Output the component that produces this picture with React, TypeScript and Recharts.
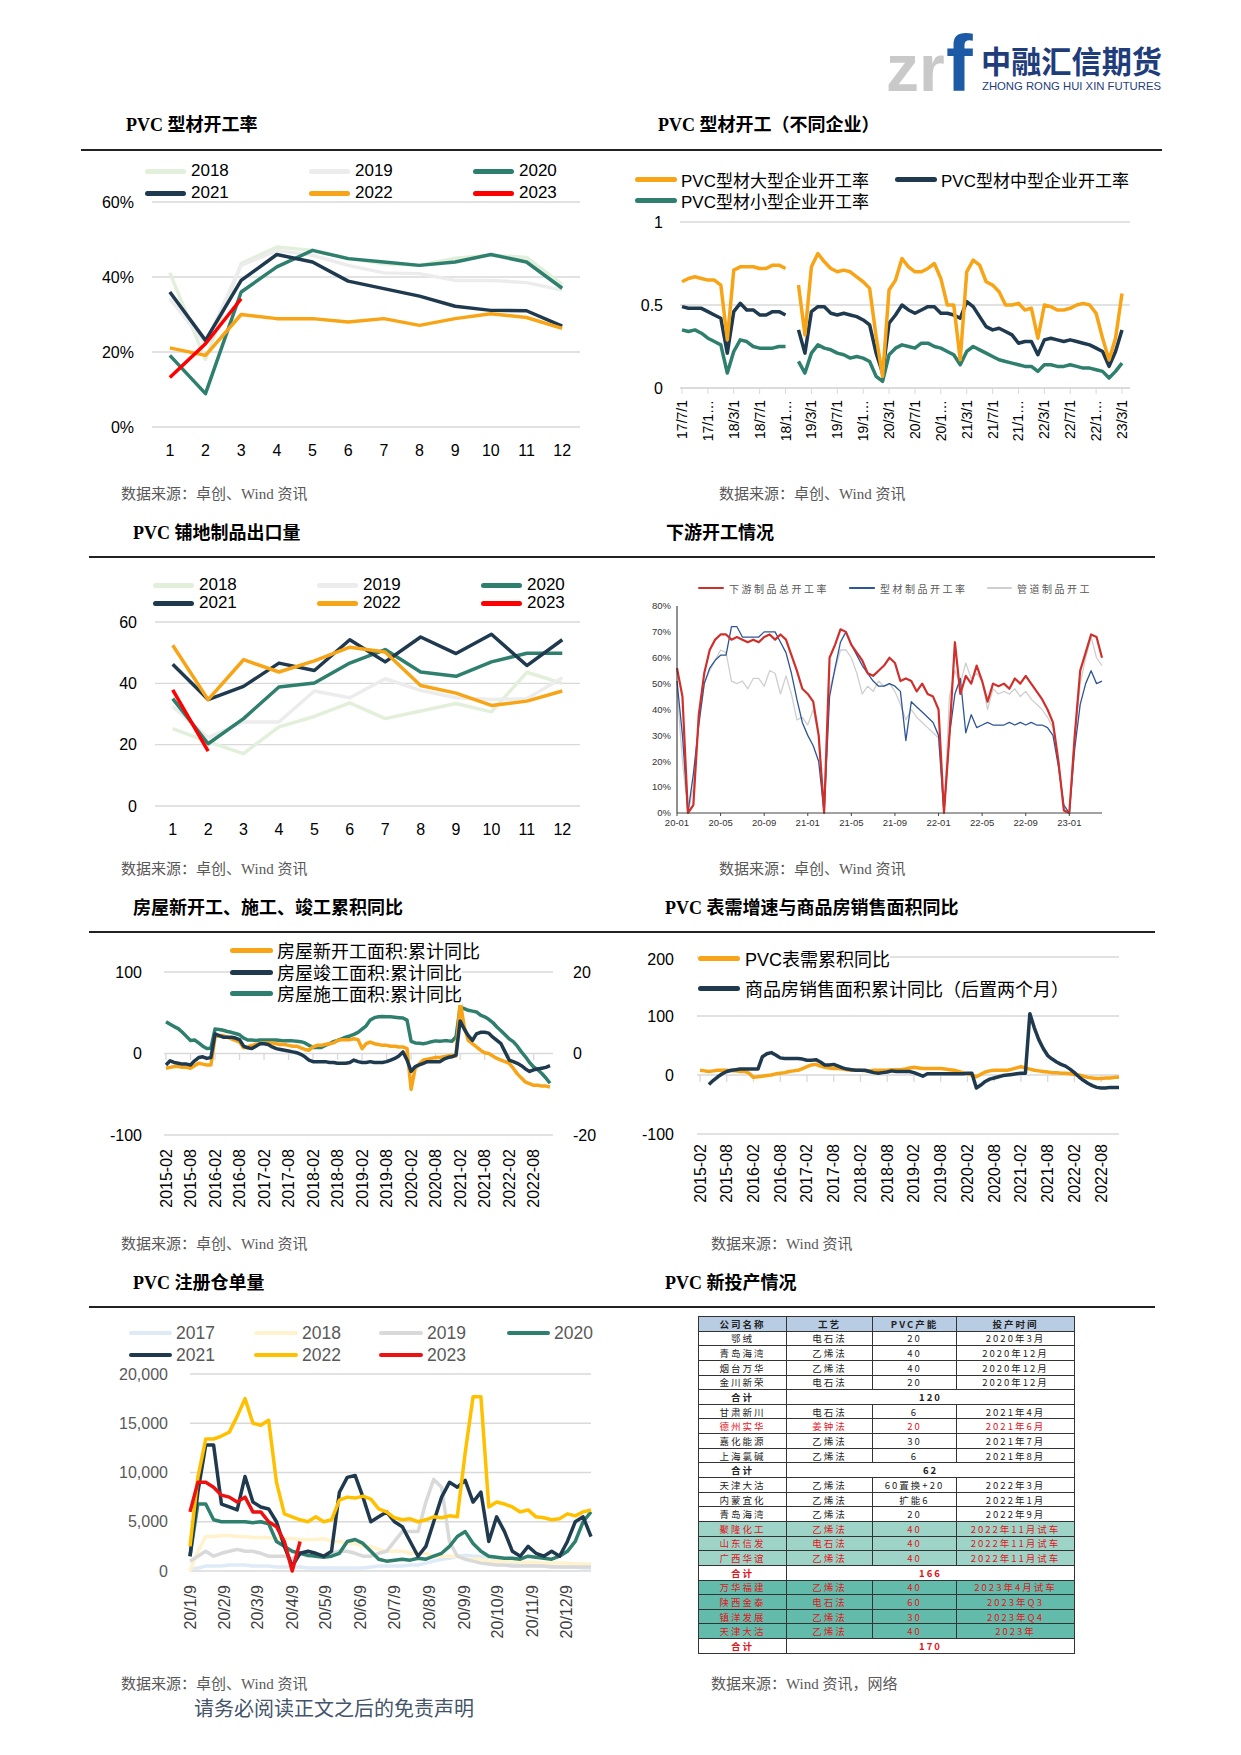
import React from "react";
import { LineChart, Line, XAxis, YAxis, CartesianGrid, ReferenceLine } from "recharts";

// ─── Fonts & colours ──────────────────────────────
const SANS = '"Liberation Sans", "Noto Sans CJK SC", sans-serif';
const SERIF = '"Liberation Serif", "Noto Sans CJK SC", serif';
const CJK = '"Noto Sans CJK SC", "Liberation Sans", sans-serif';
const GRID = "#d9d9d9";
const C17 = "#deebf7";
const C18 = "#e2efda";
const C19 = "#ececec";
const C20 = "#2f7f6e";
const C21 = "#1f3a4f";
const C22 = "#f7a416";
const C23 = "#ff0000";

// ─── PVC 型材开工率 (%) ─────────────────────────────
const months = ["1", "2", "3", "4", "5", "6", "7", "8", "9", "10", "11", "12"];
const rate2018 = [41.1, 18.0, 43.6, 48.0, 47.1, 45.0, 43.5, 43.1, 45.0, 45.8, 45.2, 38.0];
const rate2019 = [34.2, 22.2, 43.1, 47.1, 45.8, 43.1, 41.1, 40.9, 39.1, 39.1, 38.5, 36.5];
const rate2020 = [19.1, 8.9, 36.0, 42.7, 47.1, 44.9, 44.0, 43.1, 44.0, 46.0, 44.0, 37.0];
const rate2021 = [36.0, 23.1, 39.1, 46.0, 44.0, 38.9, 36.9, 34.9, 32.2, 31.1, 31.0, 26.9];
const rate2022 = [21.1, 19.1, 30.0, 28.9, 28.9, 28.0, 28.9, 27.1, 28.9, 30.2, 29.2, 26.3];
const rate2023 = [13.2, 22.2, 34.2];

// ─── PVC 型材开工 (不同企业) 2017-07 .. 2023-03 ─────────
const firmMonths: string[] = [];
for (let y = 2017; y <= 2023; y++) {
  for (let m = 1; m <= 12; m++) {
    if ((y === 2017 && m < 7) || (y === 2023 && m > 3)) continue;
    firmMonths.push(`${String(y).slice(2)}/${m}/1`);
  }
}
const firmLarge = [
  0.64, 0.66, 0.67, 0.66, 0.65, 0.65, 0.62, 0.29, 0.71, 0.73,
  0.73, 0.73, 0.72, 0.72, 0.74, 0.74, 0.72, null, 0.62, 0.32,
  0.73, 0.81, 0.76, 0.72, 0.70, 0.71, 0.70, 0.67, 0.64, 0.60,
  0.31, 0.07, 0.59, 0.65, 0.78, 0.73, 0.70, 0.70, 0.72, 0.75,
  0.66, 0.50, 0.50, 0.17, 0.70, 0.77, 0.74, 0.64, 0.62, 0.58,
  0.50, 0.50, 0.51, 0.47, 0.48, 0.30, 0.50, 0.49, 0.47, 0.47,
  0.48, 0.50, 0.51, 0.50, 0.45, 0.30, 0.17, 0.30, 0.57,
];
const firmMid = [
  0.49, 0.48, 0.48, 0.48, 0.46, 0.44, 0.42, 0.21, 0.46, 0.51,
  0.47, 0.47, 0.44, 0.44, 0.46, 0.46, 0.44, null, 0.35, 0.21,
  0.46, 0.49, 0.49, 0.45, 0.44, 0.45, 0.44, 0.43, 0.41, 0.38,
  0.21, 0.09, 0.39, 0.44, 0.50, 0.47, 0.45, 0.47, 0.49, 0.49,
  0.45, 0.45, 0.44, 0.42, 0.52, 0.49, 0.43, 0.37, 0.35, 0.36,
  0.34, 0.32, 0.27, 0.28, 0.28, 0.20, 0.29, 0.30, 0.29, 0.28,
  0.29, 0.28, 0.27, 0.26, 0.24, 0.22, 0.13, 0.22, 0.35,
];
const firmSmall = [
  0.35, 0.34, 0.35, 0.33, 0.30, 0.28, 0.26, 0.09, 0.22, 0.29,
  0.28, 0.25, 0.24, 0.24, 0.24, 0.25, 0.25, null, 0.16, 0.09,
  0.21, 0.26, 0.24, 0.23, 0.21, 0.20, 0.18, 0.19, 0.18, 0.16,
  0.07, 0.04, 0.20, 0.24, 0.26, 0.25, 0.24, 0.27, 0.27, 0.25,
  0.24, 0.22, 0.20, 0.14, 0.22, 0.25, 0.23, 0.21, 0.19, 0.17,
  0.16, 0.15, 0.14, 0.13, 0.13, 0.10, 0.14, 0.14, 0.13, 0.13,
  0.14, 0.13, 0.12, 0.12, 0.11, 0.10, 0.06, 0.10, 0.15,
];

// ─── PVC 铺地制品出口量 ────────────────────────────
const exp2018 = [25.2, 20.9, 17.1, 25.8, 29.2, 33.6, 28.5, 31.0, 33.4, 30.7, 43.6, 40.0];
const exp2019 = [32.5, 22.3, 27.4, 27.4, 37.5, 35.3, 41.5, 37.7, 35.3, 34.7, 35.0, 41.8];
const exp2020 = [35.0, 20.3, 28.5, 38.8, 40.1, 46.6, 51.0, 43.7, 42.3, 47.0, 49.8, 49.8];
const exp2021 = [46.2, 34.7, 39.0, 46.6, 44.2, 54.2, 47.0, 55.1, 49.7, 56.0, 45.8, 54.2];
const exp2022 = [52.4, 34.7, 47.7, 43.7, 47.3, 51.8, 50.2, 39.3, 36.8, 32.8, 34.2, 37.5];
const exp2023 = [37.9, 17.9];

// ─── 下游开工情况 (半月, 2020-01 起) ──────────────────
const downTicks = [0, 4, 8, 12, 16, 20, 24, 28, 32, 36];
const downTickLabels = ["20-01", "20-05", "20-09", "21-01", "21-05", "21-09", "22-01", "22-05", "22-09", "23-01"];
const downTotal = [
  56, 45, 0, 3, 38, 54, 63, 67, 69, 69,
  67, 68, 67, 66, 67, 66, 68, 69, 67, 69,
  67, 61, 55, 48, 46, 43, 30, 0, 60, 65,
  71, 70, 65, 62, 59, 54, 53, 55, 57, 60,
  58, 51, 52, 51, 47, 50, 46, 45, 40, 0,
  30, 66, 46, 53, 50, 57, 51, 43, 50, 49,
  50, 48, 52, 50, 53, 50, 47, 44, 40, 35,
  20, 1, 0, 30, 55, 62, 69, 68, 60,
];
const downProfile = [
  51, 30, 0, 15, 34, 50, 56, 59, 61, 61,
  72, 72, 68, 68, 68, 68, 70, 70, 70, 66,
  62, 54, 44, 35, 30, 26, 20, 0, 45, 56,
  66, 70, 65, 61, 57, 54, 51, 49, 49, 50,
  49, 47, 28, 43, 41, 39, 37, 35, 30, 0,
  30, 46, 52, 31, 38, 33, 34, 35, 34, 34,
  34, 35, 34, 35, 34, 35, 34, 34, 33, 30,
  18, 3, 0, 25, 42, 50, 55, 50, 51,
];
const downPipe = [
  48, 20, 0, 10, 35, 50, 55, 59, 63, 62,
  51, 50, 51, 48, 52, 52, 49, 55, 54, 46,
  53, 46, 36, 37, 34, 40, 30, 0, 48, 55,
  63, 63, 60, 54, 46, 49, 47, 51, 49, 50,
  47, 42, 36, 40, 37, 35, 33, 31, 29, 0,
  45, 55, 50, 58, 52, 54, 51, 40, 48, 46,
  47, 46, 48, 45, 47, 44, 42, 40, 37, 33,
  20, 2, 0, 30, 50, 60, 68, 60, 57,
];

// ─── 房屋新开工/施工/竣工 & 表需 (2015-02 .. 2022-12) ────
const houseMonths: string[] = [];
for (let y = 2015; y <= 2022; y++) {
  for (let m = 1; m <= 12; m++) {
    if (y === 2015 && m < 2) continue;
    houseMonths.push(`${y}-${String(m).padStart(2, "0")}`);
  }
}
const newStart = [
  -18, -17, -16, -16, -17, -17, -18, -15, -12, -13,
  -14, -14, 20, 22, 22, 20, 18, 16, 14, 7,
  8, 10, 11, 12, 13, 13, 13, 12, 11, 11,
  10, 9, 9, 7, 5, 4, 8, 10, 10, 11,
  12, 13, 16, 17, 17, 17, 18, 17, 6, 12,
  14, 12, 11, 10, 10, 9, 9, 8, 8, 6,
  -44, -18, -13, -8, -7, -6, -5, -5, -4, -3,
  -2, -3, 64, 33, 16, 12, 8, 4, 1, 0,
  -3, -6, -8, -10, -12, -18, -25, -30, -35, -37,
  -39, -39, -40, -40, -41,
];
const completed = [
  -14, -9, -11, -12, -13, -13, -14, -9, -5, -4,
  -6, -5, 24, 22, 20, 20, 20, 19, 17, 9,
  7, 6, 9, 12, 12, 11, 8, 6, 5, 4,
  3, 2, 1, -1, -4, -8, -10, -10, -10, -10,
  -11, -11, -12, -12, -12, -11, -8, -10, -11, -11,
  -10, -11, -11, -11, -10, -8, -6, -3, 2, -8,
  -22, -16, -14, -12, -10, -10, -10, -10, -7, -5,
  -4, -2, 40, 30, 22, 16, 24, 26, 26, 25,
  20, 16, 12, 2, -8, -10, -12, -15, -19, -22,
  -20, -19, -18, -17, -15,
];
const underway = [
  7.8, 7.2, 6.6, 6.1, 5.2, 4.2, 3.2, 3.3, 2.6, 1.8,
  1.2, 1.3, 6.0, 5.9, 5.7, 5.4, 5.2, 4.9, 4.6, 3.8,
  3.3, 3.3, 3.2, 3.3, 3.3, 3.3, 3.3, 3.3, 3.2, 3.1,
  3.1, 3.1, 3.0, 2.9, 2.6, 2.0, 1.5, 1.5, 1.5, 2.0,
  2.4, 2.9, 3.2, 3.6, 4.0, 4.3, 4.7, 5.2, 6.0, 6.8,
  8.2, 8.8, 9.0, 9.1, 9.0, 9.0, 8.9, 8.8, 8.7, 8.2,
  3.0, 2.6, 2.5, 2.4, 2.6, 2.9, 3.1, 3.0, 3.1, 3.1,
  3.0, 4.1, 11.4, 11.0, 10.6, 10.4, 10.2, 9.4, 9.0, 8.4,
  7.6, 6.5, 5.6, 4.6, 3.6, 2.9, 1.8, 0.4, -0.8, -2.2,
  -3.3, -4.0, -4.9, -6.0, -7.3,
];
const pvcDemand = [
  8, 7, 6, 7, 8, 8, 8, 7, 7, 6,
  6, 3, -4, -3, -2, -1, 0, 2, 3, 4,
  6, 7, 8, 11, 14, 17, 18, 15, 13, 12,
  11, 11, 10, 9, 8, 8, 8, 7, 7, 8,
  8, 8, 8, 9, 9, 9, 10, 12, 13, 12,
  11, 11, 11, 11, 11, 10, 9, 8, 6, 4,
  2, 0, -3, 1, 5, 7, 8, 8, 8, 8,
  10, 12, 14, 12, 10, 8, 7, 6, 5, 4,
  4, 3, 3, 2, 1, 0, -2, -4, -5, -6,
  -6, -5, -5, -4, -4,
];
const houseSales = [
  null, null, -16, -9, -3, 2, 6, 8, 9, 10,
  10, 10, 10, 10, 31, 36, 38, 34, 29, 28,
  28, 28, 28, 27, 25, 25, 26, 22, 17, 17,
  18, 15, 12, 10, 9, 8, 8, 8, 6, 4,
  3, 4, 5, 7, 6, 6, 6, 6, 4, 1,
  -2, 2, 2, 2, 2, 2, 2, 2, 2, 2,
  3, 3, -22, -17, -11, -7, -5, -3, -1, 0,
  1, 2, 3, 3, 104, 80, 60, 45, 33, 27,
  22, 18, 15, 10, 4, -3, -9, -14, -18, -21,
  -22, -22, -21, -21, -21,
];

// ─── PVC 注册仓单量 (每周, 1/9 起的天数) ───────────────
const stockDays = Array.from({ length: 52 }, (_, k) => k * 7);
const stockTickDays = [0, 31, 60, 91, 121, 152, 182, 213, 244, 274, 305, 335];
const stockTickLabels = ["20/1/9", "20/2/9", "20/3/9", "20/4/9", "20/5/9", "20/6/9", "20/7/9", "20/8/9", "20/9/9", "20/10/9", "20/11/9", "20/12/9"];
const stock2017 = [
  200, 300, 500, 500, 500, 600, 600, 600, 500, 500,
  500, 400, 400, 400, 400, 300, 300, 300, 300, 300,
  300, 300, 300, 400, 500, 500, 500, 500, 600, 600,
  800, 1000, 1200, 1300, 1500, 1600, 1500, 1500, 1400, 1200,
  1000, 800, 800, 700, 600, 500, 500, 400, 400, 400,
  300, 300,
];
const stock2018 = [
  0, 2000, 3500, 3500, 3600, 3600, 3500, 3500, 3400, 3400,
  3400, 3300, 3300, 3300, 3200, 3200, 3200, 3300, 3000, 3000,
  2800, 2800, 2500, 2500, 2200, 2000, 2000, 2000, 1800, 1800,
  1800, 1500, 1500, 1500, 1500, 1200, 1200, 1200, 1000, 1000,
  1000, 1000, 900, 900, 900, 800, 800, 800, 800, 700,
  700, 700,
];
const stock2019 = [
  1000, 1500, 2000, 1500, 1800, 2000, 2200, 2000, 2000, 1800,
  1500, 1500, 1500, 1200, 1800, 1500, 1700, 1500, 1800, 2000,
  2000, 1800, 1500, 1500, 1800, 2000, 3000, 4000, 4000, 4000,
  7000, 9300, 8500, 3000, 1500, 1200, 1000, 800, 700, 600,
  600, 500, 500, 500, 500, 500, 400, 400, 400, 400,
  400, 400,
];
const stock2020 = [
  1500, 6800, 6800, 5200, 5000, 5000, 5000, 5000, 4900, 5000,
  4800, 3000, 2500, 2000, 1800, 1600, 1500, 1400, 1500, 1800,
  3000, 3200, 2800, 2000, 1200, 1000, 1100, 1200, 1100, 1300,
  1200, 1500, 1800, 2500, 3500, 4000, 2800, 2000, 1500, 1400,
  1300, 1300, 1200, 1500, 1400, 1300, 1200, 1500, 2000, 3000,
  5000, 6000,
];
const stock2021 = [
  1500, 8000, 12800, 12800, 6800, 6500, 6200, 9600, 7000, 6500,
  6300, 5000, 2500, 500, 1800, 2000, 1800, 1500, 2000, 8000,
  9500, 9700, 7500, 5000, 5500, 6000, 5000, 4500, 3000, 1500,
  2500, 5000, 7500, 9000, 8500, 9200, 7000, 8000, 3000, 5500,
  4000, 2000, 1500, 2500, 1800, 1500, 2000, 1500, 3000, 5000,
  5500, 3500,
];
const stock2022 = [
  2500, 9500, 13400, 13400, 13700, 14100, 15700, 17500, 15000, 14800,
  15300, 9000, 5800, 5500, 5200, 5000, 5500, 5000, 5200, 7200,
  7500, 7400, 7600, 7300, 6300, 6000, 5400, 5200, 5300, 5000,
  5200, 5500, 5400, 5600, 5500, 12000, 17700, 17700, 6500, 7000,
  6800, 6500, 6000, 6200, 5500, 5400, 5200, 5300, 5800, 5600,
  6000, 6200,
];
const stock2023 = [6000, 9000, 9000, 8500, 7700, 7500, 7000, 7500, 6000, 6000, 5000, 4500, 3000, 0, 3000];

// ─── PVC 新投产情况 ───────────────────────────────
type Tone = "head" | "plain" | "red" | "sum" | "sumRed" | "teal" | "teal2";
const capacityRows: { cells: string[]; tone: Tone }[] = [
  { cells: ["公司名称", "工艺", "PVC产能", "投产时间"], tone: "head" },
  { cells: ["鄂绒", "电石法", "20", "2020年3月"], tone: "plain" },
  { cells: ["青岛海湾", "乙烯法", "40", "2020年12月"], tone: "plain" },
  { cells: ["烟台万华", "乙烯法", "40", "2020年12月"], tone: "plain" },
  { cells: ["金川新荣", "电石法", "20", "2020年12月"], tone: "plain" },
  { cells: ["合计", "120"], tone: "sum" },
  { cells: ["甘肃新川", "电石法", "6", "2021年4月"], tone: "plain" },
  { cells: ["德州实华", "姜钟法", "20", "2021年6月"], tone: "red" },
  { cells: ["嘉化能源", "乙烯法", "30", "2021年7月"], tone: "plain" },
  { cells: ["上海氯碱", "乙烯法", "6", "2021年8月"], tone: "plain" },
  { cells: ["合计", "62"], tone: "sum" },
  { cells: ["天津大沽", "乙烯法", "60置换+20", "2022年3月"], tone: "plain" },
  { cells: ["内蒙宜化", "乙烯法", "扩能6", "2022年1月"], tone: "plain" },
  { cells: ["青岛海湾", "乙烯法", "20", "2022年9月"], tone: "plain" },
  { cells: ["聚隆化工", "乙烯法", "40", "2022年11月试车"], tone: "teal" },
  { cells: ["山东信发", "电石法", "40", "2022年11月试车"], tone: "teal" },
  { cells: ["广西华谊", "乙烯法", "40", "2022年11月试车"], tone: "teal" },
  { cells: ["合计", "166"], tone: "sumRed" },
  { cells: ["万华福建", "乙烯法", "40", "2023年4月试车"], tone: "teal2" },
  { cells: ["陕西金泰", "电石法", "60", "2023年Q3"], tone: "teal2" },
  { cells: ["镇洋发展", "乙烯法", "30", "2023年Q4"], tone: "teal2" },
  { cells: ["天津大沽", "乙烯法", "40", "2023年"], tone: "teal2" },
  { cells: ["合计", "170"], tone: "sumRed" },
];

// ─── Tables for the charts ────────────────────────
const rateRows = months.map((m, i) => ({
  m, y2018: rate2018[i], y2019: rate2019[i], y2020: rate2020[i],
  y2021: rate2021[i], y2022: rate2022[i], y2023: rate2023[i] ?? null,
}));
const firmRows = firmMonths.map((d, i) => ({ d, large: firmLarge[i], mid: firmMid[i], small: firmSmall[i] }));
const expRows = months.map((m, i) => ({
  m, y2018: exp2018[i], y2019: exp2019[i], y2020: exp2020[i],
  y2021: exp2021[i], y2022: exp2022[i], y2023: exp2023[i] ?? null,
}));
const downRows = downTotal.map((v, i) => ({ t: i / 2, total: v, profile: downProfile[i], pipe: downPipe[i] }));
const houseRows = houseMonths.map((d, i) => ({ d, a: newStart[i], b: completed[i], c: underway[i] }));
const demandRows = houseMonths.map((d, i) => ({ d, pvc: pvcDemand[i], sales: houseSales[i] }));
const stockRows = stockDays.map((day, k) => ({
  day, y2017: stock2017[k], y2018: stock2018[k], y2019: stock2019[k], y2020: stock2020[k],
  y2021: stock2021[k], y2022: stock2022[k], y2023: stock2023[k] ?? null,
}));
const sixMonthTicks = houseMonths.filter((_, i) => i % 6 === 0);

// ─── Helpers ──────────────────────────────────────
type Box = { x: number; y: number; w: number; h: number };
type Plot = { l: number; t: number; r: number; b: number };
function frame(box: Box, plot: Plot, rightAxis = false) {
  const rw = box.x + box.w - plot.r;
  return {
    style: { position: "absolute", left: box.x, top: box.y } as React.CSSProperties,
    width: box.w,
    height: box.h,
    margin: { top: plot.t - box.y, right: rightAxis ? 0 : rw, bottom: 0, left: 0 },
    yw: plot.l - box.x,
    rw,
    xh: box.y + box.h - plot.b,
  };
}

function Txt({ x, y, text, fs = 15, font = SERIF, col = "#000", bold = false, ls = 0 }: {
  x: number; y: number; text: string; fs?: number; font?: string; col?: string; bold?: boolean; ls?: number;
}) {
  return (
    <div style={{
      position: "absolute", left: x, top: y - fs * 0.7, lineHeight: `${fs * 1.4}px`, fontSize: fs,
      fontFamily: font, color: col, fontWeight: bold ? 700 : 400, whiteSpace: "nowrap", letterSpacing: ls,
    }}>{text}</div>
  );
}

function Rule({ x1, x2, y }: { x1: number; x2: number; y: number }) {
  return <div style={{ position: "absolute", left: x1, top: y - 0.75, width: x2 - x1, height: 1.5, background: "#222" }} />;
}

function Key({ x, y, color, label, w = 42, thick = 5, gap = 5, fs = 17, col = "#000", font = SANS, bg, ls = 0 }: {
  x: number; y: number; color: string; label: string; w?: number; thick?: number; gap?: number;
  fs?: number; col?: string; font?: string; bg?: string; ls?: number;
}) {
  return (
    <div style={{
      position: "absolute", left: x, top: y - 12, height: 24, display: "flex", alignItems: "center",
      whiteSpace: "nowrap", background: bg, fontFamily: font, fontSize: fs, color: col, letterSpacing: ls,
    }}>
      <span style={{ display: "inline-block", width: w, height: thick, borderRadius: thick / 2, background: color, marginRight: gap }} />
      <span>{label}</span>
    </div>
  );
}

function RotTick({ x, y, label, fs = 16, col = "#000" }: { x: number; y: number; label: string; fs?: number; col?: string }) {
  return (
    <text x={x} y={y} transform={`rotate(-90 ${x} ${y})`} textAnchor="end" dominantBaseline="central"
      fontSize={fs} fill={col} fontFamily={SANS}>{label}</text>
  );
}

const tick16 = { fontSize: 16, fill: "#000", fontFamily: SANS };

function line(key: string, color: string, width = 3.5, axis?: string) {
  return (
    <Line key={key} dataKey={key} yAxisId={axis} stroke={color} strokeWidth={width} dot={false}
      isAnimationActive={false} strokeLinejoin="round" />
  );
}

// ─── Charts ───────────────────────────────────────
function YearChart({ data, box, plot, domain, ticks, fmt }: {
  data: object[]; box: Box; plot: Plot; domain: [number, number]; ticks: number[]; fmt?: (v: number) => string;
}) {
  const f = frame(box, plot);
  const half = (plot.r - plot.l) / 24;
  return (
    <div style={f.style}>
      <LineChart width={f.width} height={f.height} data={data} margin={f.margin}>
        <CartesianGrid vertical={false} stroke={GRID} strokeWidth={1.3} />
        <XAxis dataKey="m" interval={0} axisLine={false} tickLine={false} tickSize={0} tickMargin={18}
          height={f.xh} padding={{ left: half, right: half }} tick={tick16} />
        <YAxis domain={domain} ticks={ticks} tickFormatter={fmt} axisLine={false} tickLine={false}
          tickSize={0} tickMargin={18} width={f.yw} tick={tick16} />
        {line("y2018", C18)}
        {line("y2019", C19)}
        {line("y2020", C20)}
        {line("y2021", C21)}
        {line("y2022", C22)}
        {line("y2023", C23)}
      </LineChart>
    </div>
  );
}

function FirmChart() {
  const f = frame({ x: 600, y: 210, w: 545, h: 260 }, { l: 680, t: 222, r: 1130, b: 388 });
  return (
    <div style={f.style}>
      <LineChart width={f.width} height={f.height} data={firmRows} margin={f.margin}>
        <CartesianGrid vertical={false} stroke={GRID} strokeWidth={1.3} />
        <XAxis dataKey="d" interval={3} height={f.xh} padding={{ left: 2, right: 8 }}
          axisLine={{ stroke: GRID, strokeWidth: 1.3 }} tickLine={{ stroke: GRID }} tickSize={6} tickMargin={6}
          tick={(p: any) => {
            const v = String(p.payload.value);
            return <RotTick x={p.x} y={p.y} fs={14} label={v.length > 6 ? `${v.slice(0, 4)}…` : v} />;
          }} />
        <YAxis domain={[0, 1]} ticks={[0, 0.5, 1]} axisLine={false} tickLine={false} tickSize={0}
          tickMargin={17} width={f.yw} tick={tick16} />
        {line("small", C20)}
        {line("mid", C21)}
        {line("large", C22)}
      </LineChart>
    </div>
  );
}

function DownstreamChart() {
  const f = frame({ x: 620, y: 600, w: 500, h: 240 }, { l: 677, t: 606, r: 1102, b: 813 });
  const small = { fontSize: 9.5, fill: "#333", fontFamily: SANS };
  return (
    <div style={f.style}>
      <LineChart width={f.width} height={f.height} data={downRows} margin={f.margin}>
        <XAxis dataKey="t" type="number" domain={[0, 39]} ticks={downTicks} height={f.xh}
          tickFormatter={(v: number) => downTickLabels[downTicks.indexOf(v)]}
          axisLine={{ stroke: "#444" }} tickLine={{ stroke: "#444" }} tickSize={3} tickMargin={3} tick={small} />
        <YAxis domain={[0, 80]} ticks={[0, 10, 20, 30, 40, 50, 60, 70, 80]} tickFormatter={(v: number) => `${v}%`}
          axisLine={{ stroke: "#222" }} tickLine={false} tickSize={0} tickMargin={6} width={f.yw} tick={small} />
        {line("pipe", "#cfcfcf", 1.3)}
        {line("profile", "#2e5597", 1.3)}
        {line("total", "#d0302c", 2.2)}
      </LineChart>
    </div>
  );
}

function HouseChart() {
  const f = frame({ x: 90, y: 955, w: 530, h: 280 }, { l: 164, t: 972, r: 553, b: 1135 }, true);
  return (
    <div style={f.style}>
      <LineChart width={f.width} height={f.height} data={houseRows} margin={f.margin}>
        <CartesianGrid vertical={false} yAxisId="L" stroke={GRID} strokeWidth={1.3} />
        <XAxis dataKey="d" interval={5} height={f.xh} padding={{ left: 2, right: 3 }} axisLine={false}
          tickLine={false} tickSize={0} tickMargin={14}
          tick={(p: any) => <RotTick x={p.x} y={p.y} fs={16} label={String(p.payload.value)} />} />
        <YAxis yAxisId="L" domain={[-100, 100]} ticks={[-100, 0, 100]} axisLine={false} tickLine={false}
          tickSize={0} tickMargin={22} width={f.yw} tick={tick16} />
        <YAxis yAxisId="R" orientation="right" domain={[-20, 20]} ticks={[-20, 0, 20]} axisLine={false}
          tickLine={false} tickSize={0} tickMargin={20} width={f.rw} tick={tick16} />
        {sixMonthTicks.map((d) => (
          <ReferenceLine key={d} yAxisId="L" segment={[{ x: d, y: 0 }, { x: d, y: -8 }]} stroke={GRID} strokeWidth={1.3} />
        ))}
        {line("c", C20, 3.5, "R")}
        {line("a", C22, 3.5, "L")}
        {line("b", C21, 3.5, "L")}
      </LineChart>
    </div>
  );
}

function DemandChart() {
  const f = frame({ x: 620, y: 950, w: 520, h: 285 }, { l: 697, t: 957, r: 1119, b: 1134 });
  return (
    <div style={f.style}>
      <LineChart width={f.width} height={f.height} data={demandRows} margin={f.margin}>
        <CartesianGrid vertical={false} stroke={GRID} strokeWidth={1.3} />
        <XAxis dataKey="d" interval={5} height={f.xh} padding={{ left: 3, right: 0 }} axisLine={false}
          tickLine={false} tickSize={0} tickMargin={10}
          tick={(p: any) => <RotTick x={p.x} y={p.y} fs={16} label={String(p.payload.value)} />} />
        <YAxis domain={[-100, 200]} ticks={[-100, 0, 100, 200]} axisLine={false} tickLine={false}
          tickSize={0} tickMargin={23} width={f.yw} tick={tick16} />
        {sixMonthTicks.map((d) => (
          <ReferenceLine key={d} segment={[{ x: d, y: 0 }, { x: d, y: -12 }]} stroke={GRID} strokeWidth={1.3} />
        ))}
        {line("pvc", C22)}
        {line("sales", C21)}
      </LineChart>
    </div>
  );
}

function StockChart() {
  const f = frame({ x: 90, y: 1365, w: 515, h: 295 }, { l: 190, t: 1374, r: 591, b: 1571 });
  const grey = { fontSize: 16, fill: "#595959", fontFamily: SANS };
  return (
    <div style={f.style}>
      <LineChart width={f.width} height={f.height} data={stockRows} margin={f.margin}>
        <CartesianGrid vertical={false} stroke={GRID} strokeWidth={1.3} />
        <XAxis dataKey="day" type="number" domain={[0, 357]} ticks={stockTickDays} height={f.xh}
          axisLine={false} tickLine={false} tickSize={0} tickMargin={14}
          tick={(p: any) => (
            <RotTick x={p.x} y={p.y} fs={16} col="#404040" label={stockTickLabels[stockTickDays.indexOf(p.payload.value)]} />
          )} />
        <YAxis domain={[0, 20000]} ticks={[0, 5000, 10000, 15000, 20000]}
          tickFormatter={(v: number) => v.toLocaleString("en-US")} axisLine={false} tickLine={false}
          tickSize={0} tickMargin={22} width={f.yw} tick={grey} />
        {line("y2017", C17)}
        {line("y2018", "#fff2cc")}
        {line("y2019", "#d9d9d9")}
        {line("y2020", C20)}
        {line("y2021", C21)}
        {line("y2022", "#ffc000")}
        {line("y2023", "#ee1111")}
      </LineChart>
    </div>
  );
}

function CapacityTable() {
  const widths = [88, 86, 84, 118];
  const bgOf: Record<Tone, string> = {
    head: "#b8cce4", plain: "#fff", red: "#fff", sum: "#fff", sumRed: "#fff", teal: "#9ed4c8", teal2: "#63bcab",
  };
  const cell: React.CSSProperties = {
    border: "1px solid #333", padding: 0, textAlign: "center", lineHeight: "12px",
    whiteSpace: "nowrap", overflow: "hidden",
  };
  return (
    <table style={{
      position: "absolute", left: 698, top: 1316, width: 376, borderCollapse: "collapse", tableLayout: "fixed",
      fontFamily: CJK, fontSize: 9.5, letterSpacing: 2, color: "#222",
    }}>
      <colgroup>{widths.map((w, i) => <col key={i} style={{ width: w }} />)}</colgroup>
      <tbody>
        {capacityRows.map((r, i) => {
          const red = r.tone === "red" || r.tone === "teal" || r.tone === "teal2" || r.tone === "sumRed";
          const bold = r.tone === "head" || r.tone === "sum" || r.tone === "sumRed";
          const st: React.CSSProperties = { ...cell, color: red ? "#e0141b" : "#222", fontWeight: bold ? 700 : 400 };
          return (
            <tr key={i} style={{ height: 14.65, background: bgOf[r.tone] }}>
              {r.cells.length === 2 ? (
                <>
                  <td style={st}>{r.cells[0]}</td>
                  <td style={st} colSpan={3}>{r.cells[1]}</td>
                </>
              ) : (
                r.cells.map((c, j) => <td key={j} style={st}>{c}</td>)
              )}
            </tr>
          );
        })}
      </tbody>
    </table>
  );
}

function Logo() {
  return (
    <>
      <svg style={{ position: "absolute", left: 880, top: 20 }} width={110} height={90}>
        <text x={6} y={71} fontSize={66} fontWeight={700} fill="#c9c9c9" fontFamily={SANS}>zr</text>
        <text x={66} y={71} fontSize={80} fontWeight={700} fill="#1d5aa6" fontFamily={SANS}>f</text>
      </svg>
      <svg style={{ position: "absolute", left: 976, top: 30 }} width={194} height={66}>
        <text x={5} y={43} fontSize={31} fontWeight={700} fill="#1f3d7a" fontFamily={CJK} textLength={181}
          lengthAdjust="spacingAndGlyphs">中融汇信期货</text>
        <text x={6} y={60} fontSize={10.5} fill="#1f3d7a" fontFamily={SANS} textLength={179}
          lengthAdjust="spacingAndGlyphs">ZHONG RONG HUI XIN FUTURES</text>
      </svg>
    </>
  );
}

// ─── Page ─────────────────────────────────────────
export default function App() {
  const src = "数据来源：卓创、Wind 资讯";
  const srcStyle = { fs: 15, col: "#595959" };
  return (
    <div style={{ position: "absolute", left: 0, top: 0, width: 1241, height: 1755, background: "#fff", overflow: "hidden", fontFamily: SANS }}>
      <Logo />

      {/* row 1 */}
      <Txt x={126} y={126} text="PVC 型材开工率" fs={18} bold />
      <Txt x={658} y={126} text="PVC 型材开工（不同企业）" fs={18} bold />
      <Rule x1={81} x2={1162} y={150} />
      <YearChart data={rateRows} box={{ x: 80, y: 160, w: 510, h: 300 }} plot={{ l: 152, t: 202, r: 580, b: 427 }}
        domain={[0, 60]} ticks={[0, 20, 40, 60]} fmt={(v) => `${v}%`} />
      <Key x={145} y={171} color={C18} label="2018" w={41} />
      <Key x={309} y={171} color={C19} label="2019" w={41} />
      <Key x={473} y={171} color={C20} label="2020" w={41} />
      <Key x={145} y={193} color={C21} label="2021" w={41} />
      <Key x={309} y={193} color={C22} label="2022" w={41} />
      <Key x={473} y={193} color={C23} label="2023" w={41} />
      <FirmChart />
      <Key x={635} y={179} color={C22} label="PVC型材大型企业开工率" w={42} gap={4} />
      <Key x={895} y={179} color={C21} label="PVC型材中型企业开工率" w={42} gap={4} />
      <Key x={635} y={200} color={C20} label="PVC型材小型企业开工率" w={42} gap={4} />
      <Txt x={121} y={494} text={src} {...srcStyle} />
      <Txt x={719} y={494} text={src} {...srcStyle} />

      {/* row 2 */}
      <Txt x={133} y={534} text="PVC 铺地制品出口量" fs={18} bold />
      <Txt x={666} y={534} text="下游开工情况" fs={18} bold />
      <Rule x1={89} x2={1155} y={557} />
      <YearChart data={expRows} box={{ x: 80, y: 610, w: 510, h: 245 }} plot={{ l: 155, t: 622, r: 580, b: 806 }}
        domain={[0, 60]} ticks={[0, 20, 40, 60]} />
      <Key x={153} y={585} color={C18} label="2018" w={41} />
      <Key x={317} y={585} color={C19} label="2019" w={41} />
      <Key x={481} y={585} color={C20} label="2020" w={41} />
      <Key x={153} y={603} color={C21} label="2021" w={41} />
      <Key x={317} y={603} color={C22} label="2022" w={41} />
      <Key x={481} y={603} color={C23} label="2023" w={41} />
      <DownstreamChart />
      <Key x={698} y={588} color="#d0302c" label="下游制品总开工率" w={26} thick={2.2} gap={5} fs={10} col="#595959" font={CJK} ls={2.5} />
      <Key x={849} y={588} color="#2e5597" label="型材制品开工率" w={26} thick={1.3} gap={5} fs={10} col="#595959" font={CJK} ls={2.5} />
      <Key x={987} y={588} color="#cfcfcf" label="管道制品开工" w={25} thick={1.3} gap={5} fs={10} col="#595959" font={CJK} ls={2.5} />
      <Txt x={121} y={869} text={src} {...srcStyle} />
      <Txt x={719} y={869} text={src} {...srcStyle} />

      {/* row 3 */}
      <Txt x={133} y={909} text="房屋新开工、施工、竣工累积同比" fs={18} bold />
      <Txt x={665} y={909} text="PVC 表需增速与商品房销售面积同比" fs={18} bold />
      <Rule x1={89} x2={1155} y={932} />
      <HouseChart />
      <Key x={230} y={950} color={C22} label="房屋新开工面积:累计同比" w={43} gap={4} fs={18} bg="#fff" />
      <Key x={230} y={972} color={C21} label="房屋竣工面积:累计同比" w={43} gap={4} fs={18} bg="#fff" />
      <Key x={230} y={993} color={C20} label="房屋施工面积:累计同比" w={43} gap={4} fs={18} bg="#fff" />
      <DemandChart />
      <Key x={698} y={958} color={C22} label="PVC表需累积同比" w={42} gap={5} fs={18} bg="#fff" />
      <Key x={698} y={988} color={C21} label="商品房销售面积累计同比（后置两个月）" w={42} gap={5} fs={18} bg="#fff" />
      <Txt x={121} y={1244} text={src} {...srcStyle} />
      <Txt x={711} y={1244} text="数据来源：Wind 资讯" {...srcStyle} />

      {/* row 4 */}
      <Txt x={133} y={1284} text="PVC 注册仓单量" fs={18} bold />
      <Txt x={665} y={1284} text="PVC 新投产情况" fs={18} bold />
      <Rule x1={89} x2={1155} y={1307} />
      <StockChart />
      <Key x={129} y={1333} color={C17} label="2017" w={43} thick={4} gap={4} fs={17.5} col="#595959" />
      <Key x={254} y={1333} color="#fff2cc" label="2018" w={44} thick={4} gap={4} fs={17.5} col="#595959" />
      <Key x={379} y={1333} color="#d9d9d9" label="2019" w={44} thick={4} gap={4} fs={17.5} col="#595959" />
      <Key x={507} y={1333} color={C20} label="2020" w={43} thick={4} gap={4} fs={17.5} col="#595959" />
      <Key x={129} y={1355} color={C21} label="2021" w={43} thick={4} gap={4} fs={17.5} col="#595959" />
      <Key x={254} y={1355} color="#ffc000" label="2022" w={44} thick={4} gap={4} fs={17.5} col="#595959" />
      <Key x={379} y={1355} color="#ee1111" label="2023" w={44} thick={4} gap={4} fs={17.5} col="#595959" />
      <CapacityTable />
      <Txt x={121} y={1684} text={src} {...srcStyle} />
      <Txt x={711} y={1684} text="数据来源：Wind 资讯，网络" {...srcStyle} />

      <Txt x={194} y={1709} text="请务必阅读正文之后的免责声明" fs={20} col="#44546a" />
    </div>
  );
}
